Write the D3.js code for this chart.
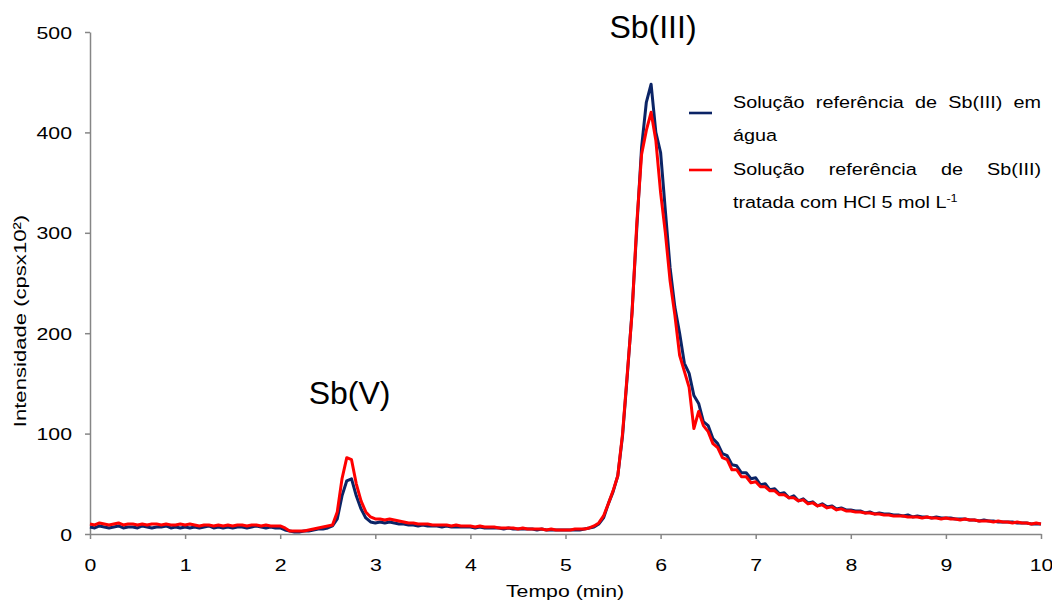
<!DOCTYPE html>
<html>
<head>
<meta charset="utf-8">
<script src="https://cdn.jsdelivr.net/npm/d3@7"></script>
<style>
  html, body { margin: 0; padding: 0; background: #fff; }
  svg { display: block; font-family: "Liberation Sans", Arial, sans-serif; }
</style>
</head>
<body>
<svg id="chart" width="1052" height="603"></svg>
<script>
// ---- data ----
const timeStart = 0, timeStep = 0.05; // min; one value every 0.05 min from 0 to 10
const xTicks = [0, 1, 2, 3, 4, 5, 6, 7, 8, 9, 10];
const yTicks = [0, 100, 200, 300, 400, 500];

const blueWater = [
  7,6,8,7,6,7,8,6,7,7,6,8,7,6,7,7,8,6,7,6,
  7,6,7,6,7,8,6,7,6,7,6,7,7,6,7,8,7,6,7,6,
  6,4,3,2,2,3,3,4,5,5,6,8,15,38,53,55,38,25,16,12,
  11,12,11,12,11,10,10,9,9,8,9,8,8,8,7,8,7,7,7,7,
  7,6,7,6,6,6,6,5,6,5,5,5,5,5,4,5,4,4,4,4,
  4,4,4,4,5,6,7,10,16,30,42,58,98,158,222,305,385,430,448,400,
  380,322,265,226,200,170,160,138,130,112,108,95,90,80,78,69,68,61,61,55,
  56,49,50,44,45,40,41,36,38,33,35,31,32,28,30,27,28,25,26,24,
  24,23,23,21,22,20,21,20,20,19,19,18,19,17,18,17,17,16,17,16,
  16,16,15,15,15,14,14,13,14,13,13,12,12,12,12,11,11,11,10,10,10
];

const redHCl = [
  10,9,11,10,9,10,11,9,10,10,9,10,9,10,10,9,10,9,9,10,
  9,10,9,8,9,9,8,9,8,9,8,9,9,8,9,9,8,9,8,8,
  8,6,3,3,3,3,4,5,6,7,8,9,22,55,76,74,50,33,22,17,
  15,15,14,15,14,13,12,11,11,10,10,10,9,9,9,9,8,9,8,8,
  8,7,8,7,7,7,6,6,6,6,5,6,5,5,5,5,4,5,4,4,
  4,4,5,5,5,6,8,11,18,30,43,58,100,160,220,310,378,402,420,392,
  340,300,252,218,178,162,146,105,122,108,102,90,86,76,74,64,64,57,57,51,
  52,47,47,43,43,39,39,36,36,33,34,30,31,28,29,26,27,24,25,23,
  23,22,22,21,21,20,20,19,19,18,18,18,17,17,17,16,17,16,16,15,
  16,15,15,14,15,14,14,13,13,13,12,13,12,12,11,12,11,11,10,11,10
];

const peakLabels = [
  { text: "Sb(III)", t: 5.92, v: 494 },
  { text: "Sb(V)", t: 2.73, v: 129 }
];

const legendLines = [
  ["Solução", "referência", "de", "Sb(III)", "em"],
  ["água"],
  ["Solução", "referência", "de", "Sb(III)"],
  ["tratada com HCl 5 mol L"]
];

// ---- drawing ----
const svg = d3.select("#chart");
const x = d3.scaleLinear().domain([0, 10]).range([90, 1041]);
const y = d3.scaleLinear().domain([0, 500]).range([534, 32]);
const axisColor = "#868686";
const colors = ["#0b2466", "#ff0000"];
const sx = 1.25; // horizontal stretch of the small texts

const xAxis = svg.append("g").attr("transform", "translate(0,534)")
  .call(d3.axisBottom(x).tickValues(xTicks).tickSize(5).tickSizeOuter(0).tickFormat(d3.format("d")));
const yAxis = svg.append("g").attr("transform", "translate(90,0)")
  .call(d3.axisLeft(y).tickValues(yTicks).tickSize(5).tickSizeOuter(0).tickFormat(d3.format("d")));
[xAxis, yAxis].forEach(g => {
  g.select(".domain").attr("stroke", axisColor).attr("stroke-width", 1.5);
  g.selectAll(".tick line").attr("stroke", axisColor).attr("stroke-width", 1.5);
  g.selectAll(".tick text").attr("fill", "#000").attr("font-size", 17)
    .attr("font-family", "'Liberation Sans', Arial, sans-serif");
});
xAxis.selectAll(".tick text").attr("y", 0).attr("dy", 0)
  .attr("transform", `translate(0,37) scale(${sx},1)`);
yAxis.selectAll(".tick text").attr("x", 0).attr("dy", "0.36em")
  .attr("transform", `translate(-18,0) scale(${sx},1)`);

const line = d3.line()
  .x((d, i) => x(timeStart + i * timeStep))
  .y(d => y(d));

[blueWater, redHCl].forEach((s, k) => {
  svg.append("path").datum(s)
    .attr("fill", "none")
    .attr("stroke", colors[k])
    .attr("stroke-width", 3)
    .attr("stroke-linejoin", "round")
    .attr("d", line);
});

// peak labels
peakLabels.forEach(p => {
  svg.append("text").attr("x", x(p.t)).attr("y", y(p.v))
    .attr("text-anchor", "middle").attr("font-size", 32).text(p.text);
});

// axis titles
svg.append("text").attr("text-anchor", "middle").attr("font-size", 17)
  .attr("transform", `translate(565,597) scale(${sx},1)`).text("Tempo (min)");
svg.append("text").attr("text-anchor", "middle").attr("font-size", 17)
  .attr("transform", `translate(26,321) rotate(-90) scale(1.3,1)`).text("Intensidade (cpsx10²)");

// legend (justified text like the original)
const legX0 = 733, legX1 = 1041, fs = 16.5, lsx = 1.2;
const legBase = [108, 141, 175, 208];
function wordText(w, xx, yy) {
  return svg.append("text").attr("font-size", fs)
    .attr("transform", `translate(${xx},${yy}) scale(${lsx},1)`).text(w);
}
legendLines.forEach((words, li) => {
  const yb = legBase[li];
  if (words.length === 1) {
    const t = wordText(words[0], legX0, yb);
    if (li === 3) t.append("tspan").attr("font-size", 10.5).attr("dy", -6.5).text("-1");
    return;
  }
  const nodes = words.map(w => wordText(w, 0, yb));
  const widths = nodes.map(n => n.node().getComputedTextLength() * lsx);
  const gap = (legX1 - legX0 - d3.sum(widths)) / (words.length - 1);
  let cx = legX0;
  nodes.forEach((n, i) => {
    n.attr("transform", `translate(${cx},${yb}) scale(${lsx},1)`);
    cx += widths[i] + gap;
  });
});
[113, 170].forEach((ly, k) => {
  svg.append("line").attr("x1", 689).attr("x2", 712).attr("y1", ly).attr("y2", ly)
    .attr("stroke", colors[k]).attr("stroke-width", 2.6);
});
</script>
</body>
</html>
